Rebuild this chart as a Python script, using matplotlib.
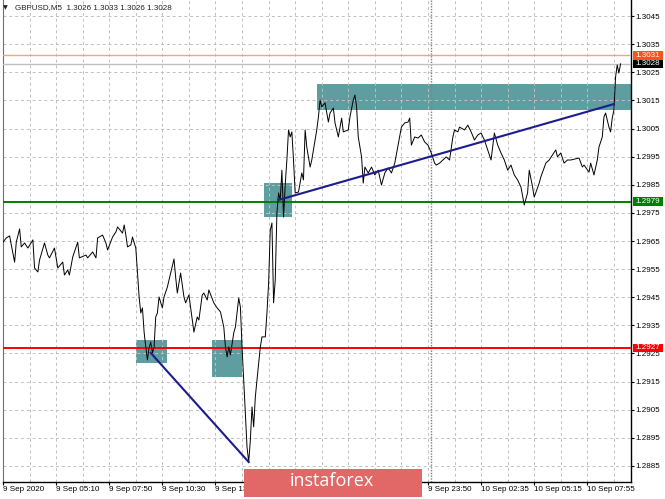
import numpy as np
import matplotlib as mpl
mpl.use('Agg')
import matplotlib.pyplot as plt
import matplotlib.transforms as mtransforms
from matplotlib.patches import Rectangle
from matplotlib.ticker import FixedLocator

symbol = 'GBPUSD,M5'
last_ohlc = ['1.3026', '1.3033', '1.3026', '1.3028']

# M5 bar number (from chart start) and close price
bars = [0, 2, 4, 5, 7, 8, 10, 11, 13, 15, 18, 19, 21, 22, 25, 27, 28, 31, 33, 36,
        37, 39, 40, 42, 45, 46, 50, 51, 54, 56, 57, 60, 62, 63, 66, 68, 69, 72, 73, 74,
        75, 77, 78, 80, 81, 82, 83, 84, 85, 86, 87, 88, 89, 90, 91, 92, 93, 94, 96, 97,
        99, 100, 103, 104, 105, 107, 109, 110, 112, 114, 115, 117, 118, 120, 121, 123, 124, 127, 129, 131,
        133, 134, 135, 136, 137, 139, 140, 142, 143, 144, 145, 146, 147, 148, 149, 150, 151, 152, 153, 155,
        156, 158, 159, 160, 161, 162, 163, 164, 165, 166, 167, 168, 169, 170, 171, 172, 173, 174, 175, 176,
        178, 180, 181, 182, 183, 185, 186, 188, 189, 190, 191, 192, 194, 196, 197, 199, 200, 202, 204, 205,
        208, 209, 211, 212, 213, 214, 216, 217, 218, 220, 222, 224, 226, 228, 230, 232, 234, 236, 238, 240,
        242, 244, 245, 246, 248, 250, 252, 254, 256, 258, 260, 261, 263, 265, 267, 269, 271, 272, 274, 275,
        278, 280, 282, 284, 286, 288, 290, 292, 294, 296, 298, 300, 302, 304, 306, 308, 310, 312, 314, 316,
        317, 319, 320, 323, 324, 327, 329, 331, 333, 334, 336, 338, 340, 342, 347, 349, 350, 353, 354, 356,
        358, 359, 361, 362, 363, 365, 366, 367, 368, 369, 370, 371, 372]
closes = [1.29646, 1.29661, 1.29668, 1.29636, 1.29575, 1.29646, 1.29693, 1.29629, 1.29643, 1.29625,
          1.29654, 1.29554, 1.29540, 1.29582, 1.29643, 1.29600, 1.29590, 1.29625, 1.29554, 1.29575,
          1.29529, 1.29547, 1.29529, 1.29593, 1.29646, 1.29590, 1.29600, 1.29590, 1.29611, 1.29590,
          1.29661, 1.29671, 1.29643, 1.29618, 1.29664, 1.29682, 1.29700, 1.29678, 1.29707, 1.29671,
          1.29629, 1.29636, 1.29664, 1.29625, 1.29536, 1.29451, 1.29394, 1.29412, 1.29326, 1.29273,
          1.29227, 1.29270, 1.29291, 1.29252, 1.29273, 1.29380, 1.29394, 1.29451, 1.29412, 1.29451,
          1.29486, 1.29511, 1.29586, 1.29522, 1.29465, 1.29536, 1.29451, 1.29430, 1.29458, 1.29369,
          1.29326, 1.29380, 1.29369, 1.29458, 1.29465, 1.29440, 1.29476, 1.29430, 1.29412, 1.29398,
          1.29344, 1.29273, 1.29238, 1.29273, 1.29245, 1.29323, 1.29344, 1.29447, 1.29415, 1.29273,
          1.29156, 1.29038, 1.28917, 1.28864, 1.28942, 1.29060, 1.28989, 1.29095, 1.29156, 1.29273,
          1.29309, 1.29309, 1.29394, 1.29501, 1.29689, 1.29714, 1.29430, 1.29511, 1.29750, 1.29821,
          1.29796, 1.29902, 1.29735, 1.29849, 1.29938, 1.30045, 1.30020, 1.30038, 1.29938, 1.29821,
          1.29824, 1.29892, 1.29867, 1.30045, 1.29984, 1.29913, 1.29938, 1.30009, 1.30045, 1.30091,
          1.30151, 1.30127, 1.30141, 1.30073, 1.30105, 1.30123, 1.30070, 1.30020, 1.30087, 1.30038,
          1.30045, 1.30091, 1.30151, 1.30169, 1.30127, 1.30020, 1.29949, 1.29856, 1.29913, 1.29892,
          1.29913, 1.29885, 1.29902, 1.29849, 1.29892, 1.29910, 1.29892, 1.29927, 1.29991, 1.30055,
          1.30070, 1.30073, 1.30087, 1.29991, 1.30020, 1.30016, 1.30027, 1.30002, 1.29991, 1.29963,
          1.29927, 1.29920, 1.29927, 1.29938, 1.29949, 1.29938, 1.30020, 1.30045, 1.30038, 1.30055,
          1.30045, 1.30062, 1.30038, 1.30009, 1.30027, 1.30034, 1.30009, 1.29974, 1.29938, 1.30034,
          1.29991, 1.29963, 1.29938, 1.29902, 1.29920, 1.29885, 1.29867, 1.29842, 1.29778, 1.29821,
          1.29902, 1.29842, 1.29806, 1.29856, 1.29878, 1.29927, 1.29938, 1.29956, 1.29974, 1.29949,
          1.29963, 1.29927, 1.29938, 1.29938, 1.29945, 1.29913, 1.29920, 1.29895, 1.29927, 1.29885,
          1.29938, 1.29984, 1.30020, 1.30091, 1.30105, 1.30055, 1.30038, 1.30087, 1.30116, 1.30233,
          1.30276, 1.30247, 1.30280]

time_ticks = [0, 32, 64, 96, 128, 160, 192, 224, 256, 288, 320, 352]
# 15:50, 18:30 and 21:10 sit behind the logo in the original, so they are not shown
time_labels = ['9 Sep 2020', '9 Sep 05:10', '9 Sep 07:50', '9 Sep 10:30', '9 Sep 13:10',
               '', '', '', '9 Sep 23:50', '10 Sep 02:35',
               '10 Sep 05:15', '10 Sep 07:55']
price_ticks = [1.2885, 1.2895, 1.2905, 1.2915, 1.2925, 1.2935, 1.2945, 1.2955, 1.2965,
               1.2975, 1.2985, 1.2995, 1.3005, 1.3015, 1.3025, 1.3035, 1.3045]
day_break = 258

# horizontal levels: price, line colour, label box colour
levels = [1.3031, 1.3028, 1.2979, 1.2927]
level_colors = ['#FFA07A', '#C0C0C0', '#008000', '#FF0000']
level_box_colors = ['#FF5020', '#000000', '#008000', '#FF0000']
level_widths = [1.0, 1.0, 1.4, 1.4]

# entry zones: start bar, end bar, low, high
zone_start = [80, 126, 157, 189]
zone_end = [99, 144, 174, 420]
zone_low = [1.29217, 1.29168, 1.29734, 1.30116]
zone_high = [1.29298, 1.29298, 1.29855, 1.30208]

# trend lines
trend_bars = [[89, 148], [166, 368]]
trend_prices = [[1.29252, 1.28864], [1.29796, 1.30137]]

W, H = 665, 499
FS = 5.8
fig = plt.figure(figsize=(W / 100, H / 100), dpi=100)
ax = fig.add_axes([3 / W, 17 / H, 628 / W, 482 / H])
ax.set_xlim(0, 378.3)
ax.set_ylim(1.28793, 1.30507)

for s, e, lo, hi in zip(zone_start, zone_end, zone_low, zone_high):
    ax.add_patch(Rectangle((s, lo), e - s, hi - lo, fc='#5F9EA0', ec='none', zorder=1))

ax.xaxis.set_major_locator(FixedLocator(time_ticks))
ax.xaxis.set_minor_locator(FixedLocator([t + 16 for t in time_ticks]))
ax.set_xticklabels(time_labels)
ax.yaxis.set_major_locator(FixedLocator(price_ticks))
ax.set_yticklabels(['%.4f' % p for p in price_ticks])
ax.yaxis.tick_right()
ax.grid(True, which='both', color='#C0C0C0', linestyle=(0, (3, 3)), linewidth=0.7)
ax.axvline(day_break, color='#808080', linestyle=(0, (1, 1)), linewidth=1.0, zorder=2)

ax.tick_params(axis='x', which='major', length=2.2, pad=1, labelsize=FS, width=0.8)
ax.tick_params(axis='x', which='minor', length=0)
ax.tick_params(axis='y', length=2.2, pad=1.2, labelsize=FS, width=0.8)
for lab in ax.get_xticklabels():
    lab.set_ha('left')
for lab in ax.get_xticklabels() + ax.get_yticklabels():
    lab.set_fontfamily('Liberation Sans')

ax.spines['top'].set_visible(False)
ax.spines['left'].set_color('#707070')
for side in ['right', 'bottom']:
    ax.spines[side].set_color('black')
    ax.spines[side].set_linewidth(1.0)

for lvl, c, lw in zip(levels, level_colors, level_widths):
    ax.axhline(lvl, color=c, linewidth=lw, zorder=3)

ax.plot(bars, closes, color='black', linewidth=0.7, zorder=4)

for tb, tp in zip(trend_bars, trend_prices):
    ax.plot(tb, tp, color='#1C1C8C', linewidth=1.5, zorder=5)

# price labels on the right scale
trans = mtransforms.blended_transform_factory(ax.transAxes, ax.transData)
box_h = 8.5 / 482 * (1.30507 - 1.28793)
for lvl, bc in zip(levels, level_box_colors):
    ax.add_patch(Rectangle((1.003, lvl - box_h / 2), 30 / 628, box_h, transform=trans,
                           fc=bc, ec='none', clip_on=False, zorder=6))
    ax.text(1.003 + 15 / 628, lvl, '%.4f' % lvl, transform=trans, ha='center', va='center',
            color='white', fontsize=FS, family='Liberation Sans', zorder=7, clip_on=False)

fig.text(5 / W, 1 - 7.5 / H, '\u25bc', fontsize=4.5, va='center', ha='center', color='#202020')
fig.text(15 / W, 1 - 7.5 / H, symbol + '  ' + ' '.join(last_ohlc), fontsize=FS,
         family='Liberation Sans', va='center', ha='left', color='#202020')

# logo
fig.patches.append(Rectangle((244 / W, 2 / H), 178 / W, 28 / H, transform=fig.transFigure,
                             fc='#E26868', ec='none', zorder=10))
fig.text(332 / W, (H - 480.5) / H, 'instaforex', color='white', fontsize=13,
         family='Open Sans', ha='center', va='center', zorder=11)

fig.savefig('out.png', dpi=100)
